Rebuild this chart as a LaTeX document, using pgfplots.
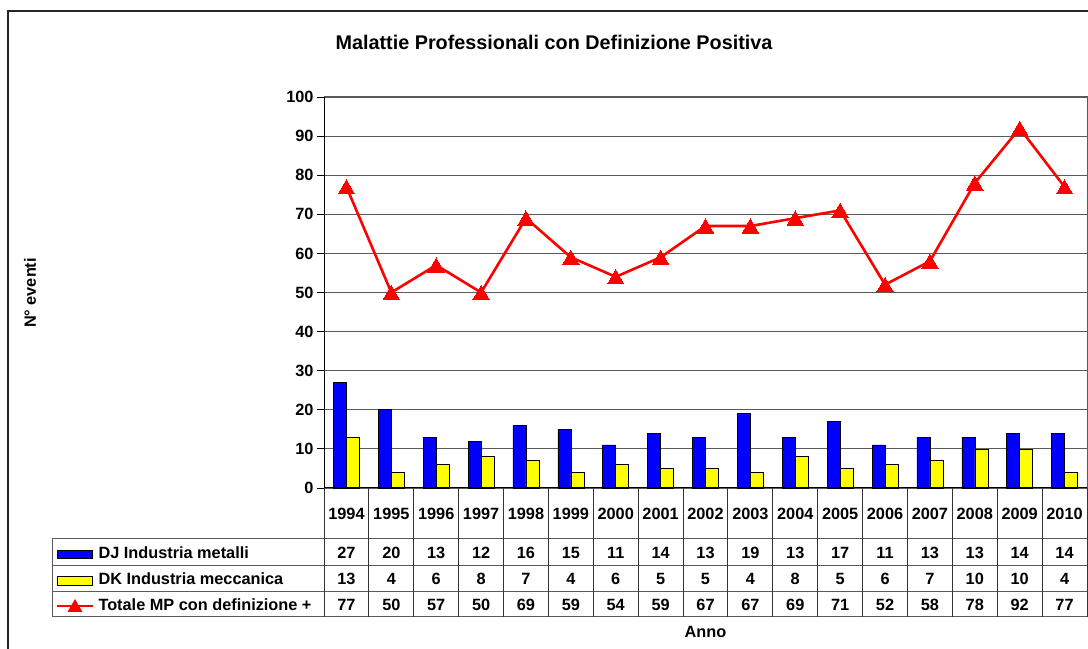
\documentclass[border=0pt]{standalone}
\usepackage{fontspec}
\setmainfont{Liberation Sans}
\usepackage{pgfplots}
\usepackage{pgfplotstable}
\pgfplotsset{compat=1.18}
\usetikzlibrary{plotmarks}
\definecolor{djblue}{RGB}{0,0,255}
\definecolor{dkyellow}{RGB}{255,255,0}
\definecolor{totred}{RGB}{255,0,0}
\definecolor{gridgray}{RGB}{90,90,90}
\pgfplotstableread{
x year dj dk tot
0 1994 27 13 77
1 1995 20 4 50
2 1996 13 6 57
3 1997 12 8 50
4 1998 16 7 69
5 1999 15 4 59
6 2000 11 6 54
7 2001 14 5 59
8 2002 13 5 67
9 2003 19 4 67
10 2004 13 8 69
11 2005 17 5 71
12 2006 11 6 52
13 2007 13 7 58
14 2008 13 10 78
15 2009 14 10 92
16 2010 14 4 77
}\data
\newcommand\tf{\bfseries\fontsize{16.3bp}{19bp}\selectfont}
\begin{document}
\begin{tikzpicture}[x=1bp,y=1bp]
\path[use as bounding box] (0,0) rectangle (1088,649);
% outer frame
\draw[line width=1.2bp, black!85] (8,-10) -- (8,638) -- (1100,638);
\begin{axis}[
  at={(324bp,161bp)}, anchor=south west,
  scale only axis, width=763bp, height=391bp,
  xmin=-0.5, xmax=16.5, ymin=0, ymax=100,
  ytick={0,10,...,100}, xtick=\empty,
  ymajorgrids, grid style={gridgray, line width=0.9bp},
  axis line style={draw=none},
  y tick style={black, line width=0.9bp},
  tick align=outside, major tick length=7bp,
  /pgf/number format/assume math mode=true,
  yticklabel style={font=\tf, xshift=0bp},
  clip=false,
]
\addplot[ybar, bar width=13bp, bar shift=-6.5bp, fill=djblue, draw=black, line width=0.6bp] table[x=x,y=dj]{\data};
\addplot[ybar, bar width=13bp, bar shift=6.5bp, fill=dkyellow, draw=black, line width=0.6bp] table[x=x,y=dk]{\data};
\addplot[sharp plot, totred, line width=2.6bp, mark=triangle*, mark size=9.5bp, mark options={solid, line width=0bp, fill=totred, yshift=-2.3bp}] table[x=x,y=tot]{\data};
\end{axis}
% plot area border and axes
\draw[gridgray, line width=1bp] (324,552) -- (1087,552) -- (1087,161);
\draw[black, line width=1bp] (324,552) -- (324,161) -- (1087,161);
% data table lines
\draw[gridgray, line width=1bp] (52,110) -- (1087,110);
\draw[gridgray, line width=1bp] (52,83) -- (1087,83);
\draw[gridgray, line width=1bp] (52,57) -- (1087,57);
\draw[gridgray, line width=1bp] (52,32) -- (1087,32);
\draw[gridgray, line width=1bp] (52,110) -- (52,32);
\foreach \k in {0,...,17} {
  \draw[black!80, line width=1bp] ({324+44.882*\k},161) -- ({324+44.882*\k},32);
}
% table contents
\foreach \i in {0,...,16} {
  \pgfmathsetmacro\xc{324+44.882*(\i+0.5)}
  \pgfplotstablegetelem{\i}{year}\of\data
  \node[font=\tf] at (\xc,135) {\pgfplotsretval};
  \pgfplotstablegetelem{\i}{dj}\of\data
  \node[font=\tf] at (\xc,96.5) {\pgfplotsretval};
  \pgfplotstablegetelem{\i}{dk}\of\data
  \node[font=\tf] at (\xc,70) {\pgfplotsretval};
  \pgfplotstablegetelem{\i}{tot}\of\data
  \node[font=\tf] at (\xc,44.5) {\pgfplotsretval};
}
% legend keys
\draw[fill=djblue, draw=black, line width=0.7bp] (57,90.5) rectangle (92,98.5);
\draw[fill=dkyellow, draw=black, line width=0.7bp] (57,64) rectangle (92,72.5);
\draw[totred, line width=2.6bp] (57,43) -- (93,43);
\fill[totred] (75,50) -- (82.5,37) -- (67.5,37) -- cycle;
\node[font=\tf, anchor=west] at (95,96.5) {DJ Industria metalli};
\node[font=\tf, anchor=west] at (95,70) {DK Industria meccanica};
\node[font=\tf, anchor=west] at (95,44.5) {Totale MP con definizione +};
% titles
\node[font=\bfseries\fontsize{19.8bp}{23bp}\selectfont] at (554,607) {Malattie Professionali con Definizione Positiva};
\node[font=\tf] at (705.5,17) {Anno};
\node[font=\tf, rotate=90] at (30,356) {N° eventi};
\end{tikzpicture}
\end{document}
